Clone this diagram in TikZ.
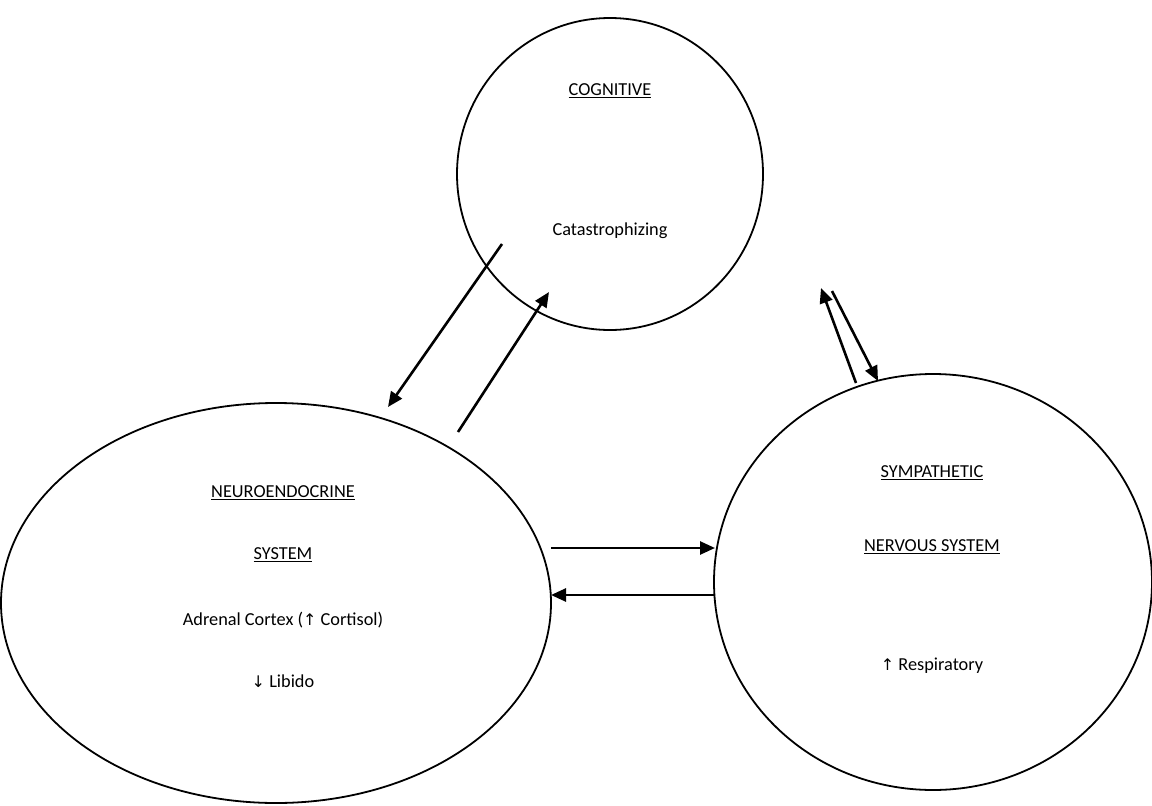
\documentclass[tikz,border=0pt]{standalone}
\usepackage{fontspec}
\setmainfont{Carlito}
\newfontfamily\arrowfont{DejaVu Sans}
\usetikzlibrary{
  arrows.meta,
  shapes.geometric,
}
\tikzset{
  >={Triangle[length=15pt,width=13pt]},
  blob/.style={draw,ellipse,line width=1.8pt,inner sep=0pt},
  lbl/.style={font=\fontsize{18.3}{22}\selectfont,inner sep=0pt},
  link/.style={->,line width=2.6pt},
}
\newcommand{\up}{{\arrowfont\fontsize{16}{18}\selectfont ↑}}
\newcommand{\down}{{\arrowfont\fontsize{16}{18}\selectfont ↓}}

\begin{document}
\begin{tikzpicture}[x=1pt,y=-1pt]

        \useasboundingbox (0,0) rectangle (1152,806);

        \node[blob,minimum width=306,minimum height=312]    (cog)     at (610,174)   {};
        \node[blob,minimum width=550,minimum height=400]    (neuro)   at (276,603)   {};
        \node[blob,minimum width=438,minimum height=416]    (symp)    at (933,582)   {};

        \node[lbl]    (cogt)     at (610,91)    {\underline{COGNITIVE}};
        \node[lbl]    (cogc)     at (610,231)   {Catastrophizing};

        \node[lbl]    (neurot)   at (283,493)   {\underline{NEUROENDOCRINE}};
        \node[lbl]    (neuros)   at (283,555)   {\underline{SYSTEM}};
        \node[lbl]    (neuroa)   at (283,620)   {Adrenal Cortex (\up{} Cortisol)};
        \node[lbl]    (neurol)   at (283,681)   {\down{} Libido};

        \node[lbl]    (sympt)    at (932,473)   {\underline{SYMPATHETIC}};
        \node[lbl]    (sympn)    at (932,547)   {\underline{NERVOUS SYSTEM}};
        \node[lbl]    (sympr)    at (932,666)   {\up{} Respiratory};

        % end points of the links
        \coordinate (a1) at (502,244);
        \coordinate (a2) at (388,407);
        \coordinate (b1) at (458,432);
        \coordinate (b2) at (549,292);
        \coordinate (c1) at (856,383);
        \coordinate (c2) at (821,288);
        \coordinate (d1) at (832,291);
        \coordinate (d2) at (878,381);
        \coordinate (e1) at (551,548);
        \coordinate (e2) at (715,548);
        \coordinate (f1) at (715,595);
        \coordinate (f2) at (551,595);

        \draw[link] (a1) -- (a2);
        \draw[link] (b1) -- (b2);
        \draw[link] (c1) -- (c2);
        \draw[link] (d1) -- (d2);
        \draw[link] (e1) -- (e2);
        \draw[link] (f1) -- (f2);

    \end{tikzpicture}
\end{document}
